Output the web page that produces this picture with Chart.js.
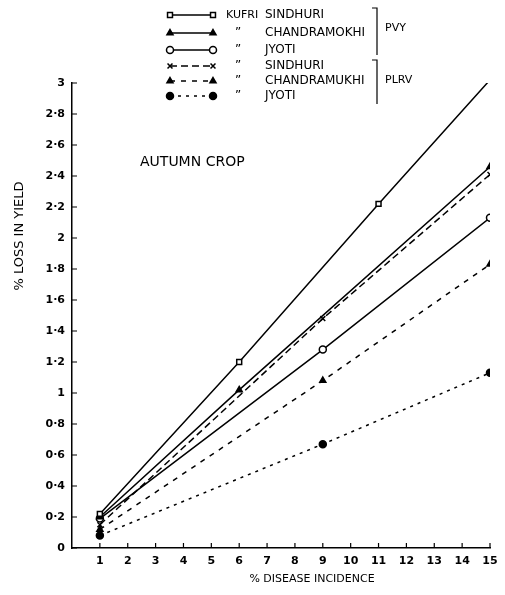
<!DOCTYPE html>
<html>
<head>
<meta charset="utf-8">
<script src="https://cdn.jsdelivr.net/npm/chart.js@4/dist/chart.umd.min.js"></script>
<style>
  html, body { margin: 0; padding: 0; background: #fff; }
  canvas { display: block; }
</style>
</head>
<body>
<canvas id="chart" width="505" height="595"></canvas>
<script>
// Valores (% de incidência da doença x % de perda na produção)
const seriesLabels = ["SINDHURI", "CHANDRAMOKHI", "JYOTI", "SINDHURI", "CHANDRAMUKHI", "JYOTI"];
const seriesPrefix = ["KUFRI", "\u201D", "\u201D", "\u201D", "\u201D", "\u201D"];

const sindhuriPvyX = [1, 6, 11, 15];
const sindhuriPvyY = [0.22, 1.2, 2.22, 3.02];
const chandraPvyX = [1, 6, 15];
const chandraPvyY = [0.2, 1.02, 2.46];
const jyotiPvyX = [1, 9, 15];
const jyotiPvyY = [0.19, 1.28, 2.13];
const sindhuriPlrvX = [1, 9, 15];
const sindhuriPlrvY = [0.15, 1.48, 2.41];
const chandraPlrvX = [1, 9, 15];
const chandraPlrvY = [0.12, 1.08, 1.83];
const jyotiPlrvX = [1, 9, 15];
const jyotiPlrvY = [0.08, 0.67, 1.13];

const xTicks = [1, 2, 3, 4, 5, 6, 7, 8, 9, 10, 11, 12, 13, 14, 15];
const yTicks = [0, 0.2, 0.4, 0.6, 0.8, 1, 1.2, 1.4, 1.6, 1.8, 2, 2.2, 2.4, 2.6, 2.8, 3];

function toPoints(xs, ys) {
  return xs.map((x, i) => ({ x: x, y: ys[i] }));
}

function fmtY(v) {
  const r = Math.round(v * 10) / 10;
  return String(r).replace(".", "\u00B7");
}

const FONT = "'DejaVu Sans', sans-serif";

// estilo comum das séries
function serie(label, pts, dash, style, fill) {
  return {
    label: label,
    data: pts,
    borderColor: "#000",
    borderWidth: 1.5,
    borderDash: dash,
    pointStyle: style,
    pointRadius: 3.5,
    pointBorderWidth: 1.5,
    pointBorderColor: "#000",
    pointBackgroundColor: fill,
    tension: 0,
  };
}

const datasets = [
  serie("Kufri Sindhuri PVY", toPoints(sindhuriPvyX, sindhuriPvyY), [], "rect", "#fff"),
  serie("Chandramukhi PVY", toPoints(chandraPvyX, chandraPvyY), [], "triangle", "#000"),
  serie("Jyoti PVY", toPoints(jyotiPvyX, jyotiPvyY), [], "circle", "#fff"),
  serie("Sindhuri PLRV", toPoints(sindhuriPlrvX, sindhuriPlrvY), [7, 4], "crossRot", "#000"),
  serie("Chandramukhi PLRV", toPoints(chandraPlrvX, chandraPlrvY), [5, 6], "triangle", "#000"),
  serie("Jyoti PLRV", toPoints(jyotiPlrvX, jyotiPlrvY), [3, 5], "circle", "#000"),
];

// marcas dos ticks para dentro + legenda e textos
const decorPlugin = {
  id: "decor",
  afterDraw(chart) {
    const ctx = chart.ctx;
    const xs = chart.scales.x;
    const ys = chart.scales.y;
    const area = chart.chartArea;
    ctx.save();
    ctx.strokeStyle = "#000";
    ctx.fillStyle = "#000";
    ctx.lineWidth = 1.2;
    ctx.beginPath();
    yTicks.forEach((v) => {
      const py = ys.getPixelForValue(v);
      ctx.moveTo(area.left, py);
      ctx.lineTo(area.left + 5, py);
    });
    xTicks.forEach((v) => {
      const px = xs.getPixelForValue(v);
      ctx.moveTo(px, area.bottom);
      ctx.lineTo(px, area.bottom - 5);
    });
    ctx.stroke();

    // legenda
    const rowY = [15, 33, 50, 66, 81, 96];
    ctx.textBaseline = "middle";
    chart.data.datasets.forEach((ds, i) => {
      const y = rowY[i];
      ctx.save();
      ctx.lineWidth = 1.5;
      ctx.setLineDash(ds.borderDash);
      ctx.beginPath();
      ctx.moveTo(170, y);
      ctx.lineTo(213, y);
      ctx.stroke();
      ctx.restore();
      [170, 213].forEach((px) => {
        ctx.save();
        ctx.lineWidth = 1.5;
        ctx.fillStyle = ds.pointBackgroundColor;
        Chart.helpers.drawPoint(ctx, { pointStyle: ds.pointStyle, radius: 3.5, rotation: 0, borderWidth: 1.5 }, px, y);
        ctx.restore();
      });
      ctx.textAlign = "left";
      ctx.font = (i === 0 ? "11px " : "12px ") + FONT;
      ctx.fillText(seriesPrefix[i], i === 0 ? 226 : 235, y);
      ctx.font = "12px " + FONT;
      ctx.fillText(seriesLabels[i], 265, y);
    });

    // chaves PVY / PLRV
    ctx.lineWidth = 1.2;
    ctx.beginPath();
    ctx.moveTo(372, 8); ctx.lineTo(377, 8); ctx.lineTo(377, 55);
    ctx.moveTo(372, 60); ctx.lineTo(377, 60); ctx.lineTo(377, 104);
    ctx.stroke();
    ctx.font = "11px " + FONT;
    ctx.fillText("PVY", 385, 28);
    ctx.fillText("PLRV", 385, 80);

    ctx.font = "14px " + FONT;
    ctx.fillText("AUTUMN CROP", 140, 162);

    ctx.font = "11px " + FONT;
    ctx.textAlign = "center";
    ctx.fillText("% DISEASE INCIDENCE", 312, 579);

    ctx.save();
    ctx.translate(20, 236);
    ctx.rotate(-Math.PI / 2);
    ctx.font = "13px " + FONT;
    ctx.fillText("% LOSS IN YIELD", 0, 0);
    ctx.restore();
    ctx.restore();
  },
};

const ctx = document.getElementById("chart").getContext("2d");
new Chart(ctx, {
  type: "line",
  data: { datasets: datasets },
  plugins: [decorPlugin],
  options: {
    responsive: false,
    animation: false,
    devicePixelRatio: 1,
    layout: { padding: { top: 83, right: 15, left: 0, bottom: 0 } },
    plugins: { legend: { display: false }, tooltip: { enabled: false } },
    scales: {
      x: {
        type: "linear",
        min: 0,
        max: 15,
        afterFit: (s) => { s.height = 47; },
        afterBuildTicks: (s) => { s.ticks = xTicks.map((v) => ({ value: v })); },
        ticks: {
          color: "#000",
          padding: 7,
          font: { family: FONT, size: 11, weight: "bold" },
          maxRotation: 0,
          autoSkip: false,
        },
        grid: { display: false, drawTicks: false },
        border: { color: "#000", width: 1.5 },
      },
      y: {
        min: 0,
        max: 3,
        afterFit: (s) => { s.width = 72; },
        afterBuildTicks: (s) => { s.ticks = yTicks.map((v) => ({ value: v })); },
        ticks: {
          color: "#000",
          padding: 7,
          font: { family: FONT, size: 11, weight: "bold" },
          callback: (v) => fmtY(v),
          autoSkip: false,
        },
        grid: { display: false, drawTicks: false },
        border: { color: "#000", width: 1.5 },
      },
    },
  },
});
</script>
</body>
</html>
